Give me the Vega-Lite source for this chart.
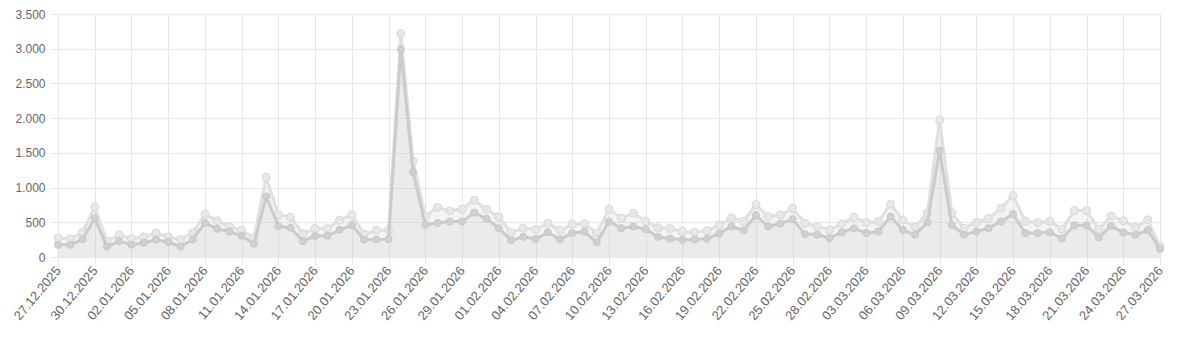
{
  "$schema": "https://vega.github.io/schema/vega-lite/v6.json",
  "width": 1102,
  "height": 243,
  "autosize": "none",
  "padding": {"left": 58, "top": 14, "right": 23, "bottom": 95},
  "config": {
    "view": {"stroke": null},
    "axis": {"labelFont": "Liberation Sans", "labelColor": "#666666", "labelFontSize": 12, "gridColor": "#e6e6e6", "tickColor": "#e6e6e6", "domain": false, "title": null, "labelOverlap": false}
  },
  "data": {"values": [
    {"d": "27.12.2025", "hi": 272, "lo": 175},
    {"d": "28.12.2025", "hi": 260, "lo": 177},
    {"d": "29.12.2025", "hi": 355, "lo": 255},
    {"d": "30.12.2025", "hi": 720, "lo": 558},
    {"d": "31.12.2025", "hi": 230, "lo": 148},
    {"d": "01.01.2026", "hi": 320, "lo": 230},
    {"d": "02.01.2026", "hi": 265, "lo": 177},
    {"d": "03.01.2026", "hi": 290, "lo": 205},
    {"d": "04.01.2026", "hi": 344, "lo": 249},
    {"d": "05.01.2026", "hi": 290, "lo": 215},
    {"d": "06.01.2026", "hi": 252, "lo": 150},
    {"d": "07.01.2026", "hi": 350, "lo": 252},
    {"d": "08.01.2026", "hi": 620, "lo": 490},
    {"d": "09.01.2026", "hi": 522, "lo": 405},
    {"d": "10.01.2026", "hi": 440, "lo": 368},
    {"d": "11.01.2026", "hi": 385, "lo": 306},
    {"d": "12.01.2026", "hi": 273, "lo": 191},
    {"d": "13.01.2026", "hi": 1148, "lo": 871},
    {"d": "14.01.2026", "hi": 608, "lo": 445},
    {"d": "15.01.2026", "hi": 574, "lo": 420},
    {"d": "16.01.2026", "hi": 335, "lo": 228},
    {"d": "17.01.2026", "hi": 410, "lo": 306},
    {"d": "18.01.2026", "hi": 410, "lo": 306},
    {"d": "19.01.2026", "hi": 530, "lo": 392},
    {"d": "20.01.2026", "hi": 610, "lo": 460},
    {"d": "21.01.2026", "hi": 330, "lo": 249},
    {"d": "22.01.2026", "hi": 385, "lo": 252},
    {"d": "23.01.2026", "hi": 390, "lo": 257},
    {"d": "24.01.2026", "hi": 3220, "lo": 2990},
    {"d": "25.01.2026", "hi": 1380, "lo": 1220},
    {"d": "26.01.2026", "hi": 590, "lo": 465},
    {"d": "27.01.2026", "hi": 715, "lo": 490},
    {"d": "28.01.2026", "hi": 665, "lo": 510},
    {"d": "29.01.2026", "hi": 690, "lo": 510},
    {"d": "30.01.2026", "hi": 820, "lo": 640},
    {"d": "31.01.2026", "hi": 685, "lo": 550},
    {"d": "01.02.2026", "hi": 580, "lo": 415},
    {"d": "02.02.2026", "hi": 350, "lo": 240},
    {"d": "03.02.2026", "hi": 415, "lo": 290},
    {"d": "04.02.2026", "hi": 395, "lo": 258},
    {"d": "05.02.2026", "hi": 485, "lo": 355},
    {"d": "06.02.2026", "hi": 385, "lo": 255},
    {"d": "07.02.2026", "hi": 470, "lo": 345},
    {"d": "08.02.2026", "hi": 480, "lo": 365},
    {"d": "09.02.2026", "hi": 345, "lo": 210},
    {"d": "10.02.2026", "hi": 690, "lo": 510},
    {"d": "11.02.2026", "hi": 560, "lo": 415},
    {"d": "12.02.2026", "hi": 630, "lo": 440},
    {"d": "13.02.2026", "hi": 515, "lo": 400},
    {"d": "14.02.2026", "hi": 420, "lo": 290},
    {"d": "15.02.2026", "hi": 410, "lo": 265},
    {"d": "16.02.2026", "hi": 368, "lo": 248},
    {"d": "17.02.2026", "hi": 358, "lo": 252},
    {"d": "18.02.2026", "hi": 380, "lo": 262},
    {"d": "19.02.2026", "hi": 460, "lo": 340},
    {"d": "20.02.2026", "hi": 565, "lo": 440},
    {"d": "21.02.2026", "hi": 515, "lo": 382},
    {"d": "22.02.2026", "hi": 755, "lo": 600},
    {"d": "23.02.2026", "hi": 582, "lo": 440},
    {"d": "24.02.2026", "hi": 605, "lo": 480},
    {"d": "25.02.2026", "hi": 700, "lo": 545},
    {"d": "26.02.2026", "hi": 487, "lo": 330},
    {"d": "27.02.2026", "hi": 440, "lo": 325},
    {"d": "28.02.2026", "hi": 390, "lo": 272},
    {"d": "01.03.2026", "hi": 477, "lo": 355},
    {"d": "02.03.2026", "hi": 572, "lo": 415},
    {"d": "03.03.2026", "hi": 497, "lo": 344},
    {"d": "04.03.2026", "hi": 510, "lo": 367},
    {"d": "05.03.2026", "hi": 760, "lo": 582},
    {"d": "06.03.2026", "hi": 535, "lo": 390},
    {"d": "07.03.2026", "hi": 430, "lo": 320},
    {"d": "08.03.2026", "hi": 635, "lo": 500},
    {"d": "09.03.2026", "hi": 1971, "lo": 1533},
    {"d": "10.03.2026", "hi": 630, "lo": 463},
    {"d": "11.03.2026", "hi": 415, "lo": 320},
    {"d": "12.03.2026", "hi": 497, "lo": 367},
    {"d": "13.03.2026", "hi": 558, "lo": 415},
    {"d": "14.03.2026", "hi": 700, "lo": 511},
    {"d": "15.03.2026", "hi": 885, "lo": 618},
    {"d": "16.03.2026", "hi": 516, "lo": 344},
    {"d": "17.03.2026", "hi": 497, "lo": 344},
    {"d": "18.03.2026", "hi": 516, "lo": 355},
    {"d": "19.03.2026", "hi": 403, "lo": 267},
    {"d": "20.03.2026", "hi": 668, "lo": 456},
    {"d": "21.03.2026", "hi": 668, "lo": 456},
    {"d": "22.03.2026", "hi": 401, "lo": 280},
    {"d": "23.03.2026", "hi": 592, "lo": 449},
    {"d": "24.03.2026", "hi": 523, "lo": 353},
    {"d": "25.03.2026", "hi": 427, "lo": 320},
    {"d": "26.03.2026", "hi": 535, "lo": 387},
    {"d": "27.03.2026", "hi": 148, "lo": 115}
  ]},
  "encoding": {
    "x": {
      "field": "d", "type": "ordinal", "sort": null,
      "scale": {"type": "point", "padding": 0},
      "axis": {
        "values": ["27.12.2025", "30.12.2025", "02.01.2026", "05.01.2026", "08.01.2026", "11.01.2026", "14.01.2026", "17.01.2026", "20.01.2026", "23.01.2026", "26.01.2026", "29.01.2026", "01.02.2026", "04.02.2026", "07.02.2026", "10.02.2026", "13.02.2026", "16.02.2026", "19.02.2026", "22.02.2026", "25.02.2026", "28.02.2026", "03.03.2026", "06.03.2026", "09.03.2026", "12.03.2026", "15.03.2026", "18.03.2026", "21.03.2026", "24.03.2026", "27.03.2026"],
        "labelAngle": -50, "labelAlign": "right", "labelBaseline": "middle", "labelFontSize": 13,
        "grid": true, "tickSize": 8, "labelPadding": 3
      }
    }
  },
  "layer": [
    {
      "mark": {"type": "area", "color": "#c8c8c8", "opacity": 0.2},
      "encoding": {
        "y": {
          "field": "hi", "type": "quantitative",
          "scale": {"domain": [0, 3500], "nice": false},
          "axis": {"values": [0, 500, 1000, 1500, 2000, 2500, 3000, 3500], "tickCount": 8, "labelExpr": "replace(format(datum.value, ','), ',', '.')", "grid": true, "tickSize": 8, "labelPadding": 5}
        }
      }
    },
    {
      "mark": {"type": "area", "color": "#c8c8c8", "opacity": 0.2},
      "encoding": {"y": {"field": "lo", "type": "quantitative", "axis": {"values": [0, 500, 1000, 1500, 2000, 2500, 3000, 3500], "tickCount": 8, "labelExpr": "replace(format(datum.value, ','), ',', '.')", "grid": true, "tickSize": 8, "labelPadding": 5}}}
    },
    {
      "mark": {"type": "line", "color": "#e0e0e0", "strokeWidth": 3, "point": {"filled": true, "size": 64, "fill": "#e8e8e8", "stroke": "#d8d8d8", "strokeWidth": 1}},
      "encoding": {"y": {"field": "hi", "type": "quantitative", "axis": {"values": [0, 500, 1000, 1500, 2000, 2500, 3000, 3500], "tickCount": 8, "labelExpr": "replace(format(datum.value, ','), ',', '.')", "grid": true, "tickSize": 8, "labelPadding": 5}}}
    },
    {
      "mark": {"type": "line", "color": "#cbcbcb", "strokeWidth": 3, "point": {"filled": true, "size": 50, "fill": "#d0d0d0", "stroke": "#c8c8c8", "strokeWidth": 1}},
      "encoding": {"y": {"field": "lo", "type": "quantitative", "axis": {"values": [0, 500, 1000, 1500, 2000, 2500, 3000, 3500], "tickCount": 8, "labelExpr": "replace(format(datum.value, ','), ',', '.')", "grid": true, "tickSize": 8, "labelPadding": 5}}}
    }
  ]
}
